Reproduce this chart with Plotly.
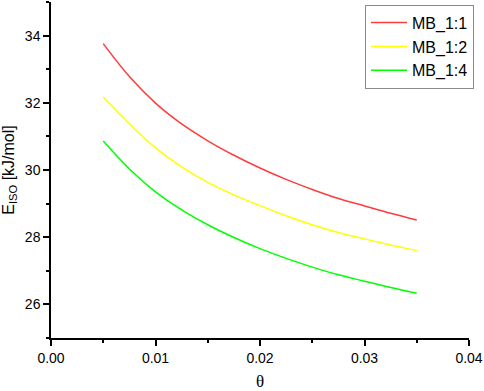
import plotly.graph_objects as go

theta = [0.005, 0.0075, 0.01, 0.0125, 0.015, 0.0175, 0.02, 0.0225, 0.025, 0.0275, 0.03, 0.0325, 0.035]
mb_1_1 = [33.76, 32.78, 31.99, 31.37, 30.87, 30.44, 30.06, 29.72, 29.42, 29.15, 28.93, 28.71, 28.51]
mb_1_2 = [32.17, 31.37, 30.66, 30.09, 29.63, 29.26, 28.94, 28.64, 28.37, 28.14, 27.95, 27.77, 27.60]
mb_1_4 = [30.86, 30.03, 29.35, 28.81, 28.37, 27.99, 27.66, 27.37, 27.11, 26.88, 26.69, 26.50, 26.33]

series_names = ["MB_1:1", "MB_1:2", "MB_1:4"]
series_colors = ["#FF3C3C", "#FFFF00", "#00FF00"]

fig = go.Figure()
for name, vals, col in zip(series_names, [mb_1_1, mb_1_2, mb_1_4], series_colors):
    fig.add_trace(go.Scatter(x=theta, y=vals, mode="lines", name=name,
                             line=dict(color=col, width=1.5, shape="spline")))

axis_font = dict(family="Liberation Sans, Arial, sans-serif", size=14, color="black")

fig.update_layout(
    width=484, height=391,
    margin=dict(l=51, r=15, t=2, b=53),
    plot_bgcolor="white", paper_bgcolor="white",
    font=dict(family="Liberation Sans, Arial, sans-serif", color="black"),
    legend=dict(x=1.012, y=0.992, xanchor="right", yanchor="top",
                bordercolor="#8a8a8a", borderwidth=1, bgcolor="white",
                font=dict(size=16, family="Liberation Sans, Arial, sans-serif"),
                itemwidth=36, tracegroupgap=0),
    xaxis=dict(range=[0, 0.04], dtick=0.01, tick0=0, tickformat=".2f", automargin=False,
               showgrid=False, zeroline=False, showline=True, linecolor="black", linewidth=1.5,
               ticks="outside", ticklen=6, tickwidth=1.5, tickcolor="black",
               minor=dict(ticks="outside", ticklen=3, tickwidth=1.5, tickcolor="black", dtick=0.005, tick0=0),
               tickfont=axis_font,
               title=dict(text="θ", font=dict(family="Liberation Serif, Times New Roman, serif", size=17), standoff=12)),
    yaxis=dict(range=[25, 35], dtick=2, tick0=26, automargin=False,
               showgrid=False, zeroline=False, showline=True, linecolor="black", linewidth=1.5,
               ticks="outside", ticklen=6, tickwidth=1.5, tickcolor="black",
               minor=dict(ticks="outside", ticklen=3, tickwidth=1.5, tickcolor="black", dtick=1, tick0=25),
               tickfont=axis_font,
               title=dict(text="E<sub>ISO</sub> [kJ/mol]", font=dict(size=16), standoff=7)),
)

fig.write_html("out.html", config={"displayModeBar": False},
               post_script="document.body.style.margin='0';")
